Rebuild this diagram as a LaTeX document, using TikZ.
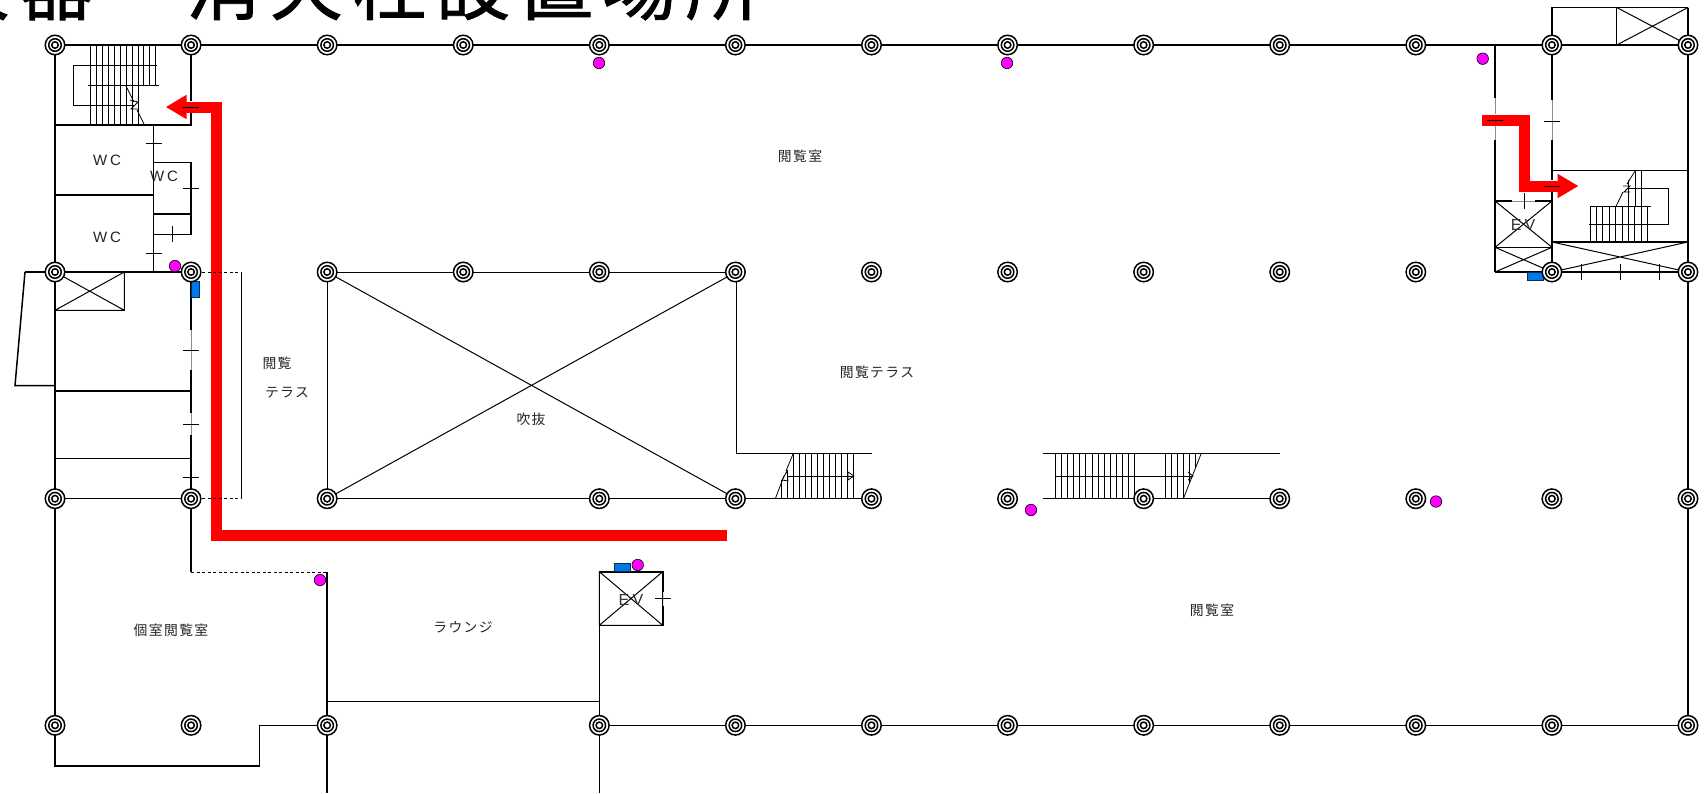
\documentclass[tikz,border=0pt]{standalone}
\usepackage{fontspec}
\usetikzlibrary{arrows.meta}
\newfontfamily\jp[LetterSpace=10]{Noto Sans CJK JP}
\newfontfamily\jptitle[LetterSpace=12.5,FakeBold=1.2]{Noto Sans CJK JP}
\newfontfamily\lat[LetterSpace=20]{Liberation Sans}
\definecolor{firered}{RGB}{255,0,0}
\definecolor{magentadot}{RGB}{255,0,255}
\definecolor{blueunit}{RGB}{0,120,230}
\tikzset{
  wall/.style={line width=1.5pt,black},
  thinline/.style={line width=1pt,black},
  tread/.style={line width=0.8pt,black},
  doorgap/.style={line width=0.5pt,black!45},
  dashwall/.style={line width=1pt,black,dash pattern=on 3pt off 2.5pt},
  route/.style={line width=11pt,firered,line join=miter},
  routehead/.style={-{Triangle[length=21pt,width=23pt]}},
  ringA/.style={circle,draw=black,fill=white,line width=1.5pt,inner sep=0pt,minimum size=19.5pt},
  ringB/.style={circle,draw=black,fill=white,line width=1.5pt,inner sep=0pt,minimum size=12.5pt},
  ringC/.style={circle,draw=black,fill=white,line width=1.5pt,inner sep=0pt,minimum size=6.5pt},
  hydrant/.style={circle,draw=black,fill=magentadot,line width=0.6pt,inner sep=0pt,minimum size=11.5pt},
  unit/.style={draw=black!60!blueunit,fill=blueunit,line width=0.6pt},
  roomlabel/.style={inner sep=0pt,font=\jp\fontsize{13.8}{15}\selectfont,text=black!85},
  wclabel/.style={inner sep=0pt,font=\lat\fontsize{15}{16}\selectfont,text=black!85},
  evlabel/.style={inner sep=0pt,font=\lat\fontsize{16}{17}\selectfont,text=black!80},
  titlelabel/.style={inner sep=0pt,anchor=base west,font=\jptitle\fontsize{74}{80}\selectfont}
}
\newcommand{\xbox}[4]{\draw[thinline] (#1,#2) rectangle (#3,#4) (#1,#2)--(#3,#4) (#1,#4)--(#3,#2);}
\newcommand{\htick}[2]{\draw[thinline] (#1-8,#2)--(#1+8,#2);}
\newcommand{\vtick}[2]{\draw[thinline] (#1,#2-8)--(#1,#2+8);}
\begin{document}
\begin{tikzpicture}[x=1pt,y=-1pt]
\path[use as bounding box] (0,0) rectangle (1704,793);
\clip (0,0) rectangle (1704,793);
\fill[white] (0,0) rectangle (1704,793);
\node[titlelabel] (title) at (-147,14) {消火器　消火栓設置場所};
% evacuation routes (under the walls)
\coordinate (ra) at (727,535);
\coordinate (rb) at (216.7,107);
\coordinate (rc) at (165.7,107);
\draw[route,routehead] (ra) -| (rb) -- (rc);
\coordinate (rd) at (1482,120);
\coordinate (re) at (1524,186);
\coordinate (rf) at (1578.5,186);
\draw[route,routehead] (rd) -| (re) -- (rf);
% outer walls
\draw[wall] (55,45)--(1688,45);
\draw[wall] (55,45)--(55,766)--(259.3,766)--(259.3,725.3)--(327,725.3);
\draw[wall] (1688,7.5)--(1688,725.3)--(599,725.3);
\draw[wall] (327,572)--(327,793);
\draw[wall] (599.3,572)--(599.3,793);
\draw[wall] (327,701.7)--(599.3,701.7);
% left service block
\draw[wall] (191,45)--(191,101) (191,113)--(191,125)--(55,125);
\draw[wall] (153.7,125)--(153.7,272);
\draw[wall] (55,195)--(153.7,195);
\draw[wall] (153.7,162.3)--(191,162.3)--(191,234.3)--(153.7,234.3);
\draw[wall] (153.7,214)--(191,214);
\htick{153.7}{143.7}\htick{153.7}{253}\htick{191}{107}\htick{191}{188.5}
\vtick{172.7}{234.3}
\draw[wall] (25,272)--(191,272);
\draw[wall] (25,272)--(15,385.7)--(55,385.7);
\xbox{55}{272}{124.3}{310.3}
\draw[wall] (191,272)--(191,330) (191,370)--(191,413) (191,435)--(191,572);
\draw[doorgap] (191,330)--(191,370) (191,413)--(191,435);
\htick{191}{350.3}\htick{191}{424.3}\htick{191}{477.7}
\draw[wall] (55,391)--(191,391);
\draw[wall] (55,458.3)--(191,458.3);
\draw[wall] (55,498.7)--(191,498.7);
% terrace
\draw[dashwall] (191,272)--(241.7,272);
\draw[dashwall] (191,498.7)--(241.7,498.7);
\draw[thinline] (241.7,272)--(241.7,498.7);
\draw[dashwall] (191,572)--(327,572);
% void
\draw[thinline] (327,272)--(736,272);
\draw[thinline] (327,272)--(327,498.7);
\draw[wall] (327,498.7)--(872,498.7);
\draw[thinline] (327,272)--(736,498.7) (327,498.7)--(736,272);
\draw[thinline] (736,272)--(736,453.3)--(872,453.3);
% central stairs
\foreach \sx in {793.3,799.3,...,854.5} \draw[tread] (\sx,453.3)--(\sx,498.7);
\draw[tread] (781.3,480)--(781.3,498.7) (787.3,470)--(787.3,498.7);
\draw[tread] (775.3,498.7)--(784,476) (786,471)--(793.3,453.3);
\draw[tread] (787,476)--(854,476);
\draw[tread] (848,472)--(854,476)--(848,480)--cycle;
\draw[tread] (787,471)--(782,480)--(788,481)--cycle;
% right central stairs
\draw[thinline] (1042.7,453.3)--(1280,453.3);
\draw[wall] (1042.7,498.7)--(1280,498.7);
\foreach \sx in {1055.3,1061.4,...,1135} \draw[tread] (\sx,453.3)--(\sx,498.7);
\foreach \sx in {1165.3,1171.3,1177.3,1183.3} \draw[tread] (\sx,453.3)--(\sx,498.7);
\draw[tread] (1189.3,453.3)--(1189.3,483) (1195.3,453.3)--(1195.3,468);
\draw[tread] (1183.3,498.7)--(1201.3,453.3);
\draw[tread] (1055,476)--(1193,476);
\draw[tread] (1188,472)--(1193,476)--(1188,480);
% left stair
\foreach \sx in {90.7,96.6,...,156} \draw[tread] (\sx,45)--(\sx,85);
\foreach \sx in {90.7,96.6,...,139} \draw[tread] (\sx,85)--(\sx,125);
\draw[thinline] (88,85)--(158.7,85);
\draw[thinline] (157,65)--(73,65)--(73,105)--(134,105);
\draw[tread] (126,86)--(134,102) (137,110)--(144,124);
\draw[tread] (130,100)--(138,102)--(131,109)--(138,109);
% EV centre
\xbox{599.3}{571.7}{662.7}{625.3}
\draw[line width=1.6pt,black] (599.3,571.7)--(662.7,571.7)--(662.7,592) (662.7,606)--(662.7,625.3)--(599.3,625.3);
\htick{662.7}{598.7}
\node[evlabel] (ev1) at (631,599.5) {EV};
% right block
\draw[wall] (1552,45)--(1552,7.5)--(1688,7.5);
\draw[wall] (1616.7,7.5)--(1616.7,45);
\draw[thinline] (1616.7,7.5)--(1688,45) (1616.7,45)--(1688,7.5);
\draw[wall] (1495,45)--(1495,98) (1495,140)--(1495,272);
\draw[wall] (1552,45)--(1552,100) (1552,140)--(1552,180);
\draw[wall] (1552,192)--(1552,272);
\draw[doorgap] (1495,98)--(1495,114) (1495,126)--(1495,140) (1552,100)--(1552,140);
\draw[wall] (1552,170.7)--(1688,170.7);
\draw[wall] (1552,242)--(1688,242);
\draw[wall] (1495,272)--(1688,272);
\htick{1495}{120}\htick{1552}{121}\htick{1552}{186}
\draw[wall] (1495,201)--(1512,201) (1535,201)--(1552,201);
\draw[doorgap] (1512,201)--(1535,201);
\vtick{1524}{201}
\draw[thinline] (1495,201)--(1552,247.3) (1495,247.3)--(1552,201);
\draw[wall] (1495,247.3)--(1552,247.3);
\draw[thinline] (1495,247.3)--(1552,272) (1495,272)--(1552,247.3);
\node[evlabel] (ev2) at (1523,225) {EV};
\draw[thinline] (1552,242)--(1688,272) (1552,272)--(1688,242);
\vtick{1581}{272}\vtick{1620}{272}\vtick{1659}{272}
% right stair
\draw[thinline] (1590,206.3)--(1650.7,206.3);
\foreach \sx in {1590,1596.4,...,1649} \draw[tread] (\sx,206.3)--(\sx,242);
\draw[tread] (1628.7,180)--(1628.7,206.3) (1635.3,170.7)--(1635.3,206.3) (1641.7,170.7)--(1641.7,206.3);
\draw[thinline] (1627.7,188.3)--(1668.3,188.3)--(1668.3,224)--(1589.3,224);
\draw[tread] (1635,171)--(1627,184) (1623,192)--(1616,206.3);
\draw[tread] (1623,186)--(1630,186)--(1624,192)--(1630,192);
% equipment
\draw[unit] (191.7,281.7) rectangle (199,297);
\draw[unit] (614.3,563.7) rectangle (630,571.7);
\draw[unit] (1527.3,272.7) rectangle (1543,280);
% columns
\foreach \rw/\ry in {1/45,2/272,3/498.7,4/725.3}{
  \foreach \cl in {1,...,13}{
    \pgfmathsetmacro{\cx}{55+136.08*(\cl-1)}
    \pgfmathtruncatemacro{\skipit}{(\cl==4 && \rw>2) ? 1 : 0}
    \ifnum\skipit=0
      \node[ringA] (col-\rw-\cl) at (\cx,\ry) {};
      \node[ringB] at (col-\rw-\cl.center) {};
      \node[ringC] at (col-\rw-\cl.center) {};
    \fi
  }
}
% hydrants
\node[hydrant] (h1) at (175,266) {};
\node[hydrant] (h2) at (599,63) {};
\node[hydrant] (h3) at (1007,63) {};
\node[hydrant] (h4) at (1482.7,58.7) {};
\node[hydrant] (h5) at (1031,510) {};
\node[hydrant] (h6) at (1436,501.5) {};
\node[hydrant] (h7) at (637.7,565) {};
\node[hydrant] (h8) at (320,580) {};
% labels
\node[wclabel] (w1) at (107,160) {WC};
\node[wclabel] (w2) at (164,176) {WC};
\node[wclabel] (w3) at (107,237) {WC};
\node[roomlabel] (l1) at (800,156) {閲覧室};
\node[roomlabel] (l2) at (277,363) {閲覧};
\node[roomlabel] (l3) at (287,393) {テラス};
\node[roomlabel] (l4) at (877,372) {閲覧テラス};
\node[roomlabel] (l5) at (531,419) {吹抜};
\node[roomlabel] (l6) at (171,630) {個室閲覧室};
\node[roomlabel] (l7) at (463,627) {ラウンジ};
\node[roomlabel] (l8) at (1212,610) {閲覧室};
\end{tikzpicture}
\end{document}
